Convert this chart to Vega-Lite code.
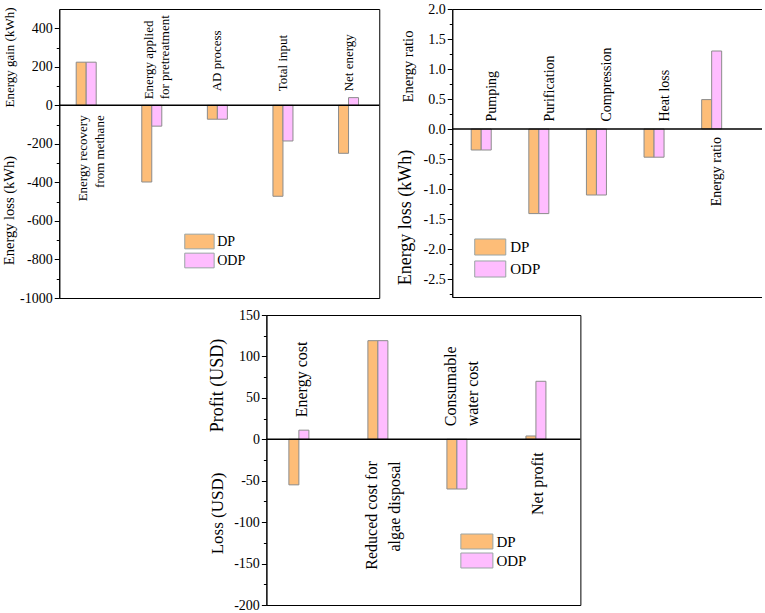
{
  "$schema": "https://vega.github.io/schema/vega-lite/v6.json",
  "padding": {"left": 0, "top": 1, "right": -27, "bottom": 0},
  "spacing": 1,
  "center": true,
  "resolve": {"scale": {"color": "independent"}, "legend": {"color": "independent"}},
  "vconcat": [
    {
      "spacing": 14,
      "resolve": {"scale": {"color": "independent"}, "legend": {"color": "independent"}},
      "hconcat": [
        {
          "width": 320,
          "height": 289,
          "data": {"values": [
            {"item": "Energy recovery\nfrom methane", "process": "DP", "value": 224},
            {"item": "Energy recovery\nfrom methane", "process": "ODP", "value": 224},
            {"item": "Energy applied\nfor pretreatment", "process": "DP", "value": -398},
            {"item": "Energy applied\nfor pretreatment", "process": "ODP", "value": -108},
            {"item": "AD process", "process": "DP", "value": -72},
            {"item": "AD process", "process": "ODP", "value": -72},
            {"item": "Total input", "process": "DP", "value": -472},
            {"item": "Total input", "process": "ODP", "value": -185},
            {"item": "Net energy", "process": "DP", "value": -249},
            {"item": "Net energy", "process": "ODP", "value": 40}
          ]},
          "layer": [
            {
              "mark": {"type": "bar", "stroke": "#8c8c8c", "strokeWidth": 1},
              "encoding": {
                "x": {"field": "item", "type": "nominal", "sort": null, "axis": null, "scale": {"paddingInner": 0.695, "paddingOuter": 0.287, "align": 0.45}},
                "xOffset": {"field": "process", "type": "nominal"},
                "y": {"field": "value", "type": "quantitative", "scale": {"domain": [-1000, 500], "nice": false, "zero": false},
                  "axis": {"orient": "left", "values": [-1000, -800, -600, -400, -200, 0, 200, 400], "format": "d", "grid": false, "tickSize": 5, "tickColor": "black", "domainColor": "black", "labelFontSize": 14, "labelColor": "black", "labelPadding": 2, "labelExpr": "replace(datum.label, '\u2212', '-')",
                    "title": "Energy loss (kWh)", "titleFontSize": 14.5, "titleFontWeight": "normal", "titleColor": "black", "titleAngle": 270, "titleBaseline": "middle", "titleAlign": "center", "titleX": -50, "titleY": 201}},
                "color": {"field": "process", "type": "nominal", "scale": {"domain": ["DP", "ODP"], "range": ["#FDBD78", "#FFBDFF"]},
                  "legend": {"orient": "none", "legendX": 132.7, "legendY": 225, "title": null, "symbolType": "M-2.1,-1.05H2.1V1.05H-2.1Z", "symbolSize": 196, "symbolStrokeColor": "#9aa5a5", "symbolStrokeWidth": 1, "symbolOpacity": 1, "labelFontSize": 14, "labelColor": "black", "labelOffset": 10.3, "rowPadding": 0, "padding": 0}}
              }
            },
            {
              "data": {"values": [{"value": 0}]},
              "mark": {"type": "rule", "color": "black", "strokeWidth": 1.5},
              "encoding": {
                "y": {"field": "value", "type": "quantitative", "scale": {"domain": [-1000, 500], "nice": false, "zero": false},
                  "axis": {"orient": "left", "values": [-900, -700, -500, -300, -100, 100, 300], "grid": false, "labels": false, "domain": false, "tickSize": 3, "tickColor": "black",
                    "title": "Energy gain (kWh)", "titleFontSize": 13, "titleFontWeight": "normal", "titleColor": "black", "titleAngle": 270, "titleBaseline": "middle", "titleAlign": "center", "titleX": -50, "titleY": 48}}
              }
            },
            {
              "transform": [{"filter": {"and": [{"field": "process", "equal": "DP"}, {"field": "item", "oneOf": ["AD process", "Total input", "Net energy"]}]}}],
              "mark": {"type": "text", "angle": 270, "align": "left", "baseline": "middle", "fontSize": 13, "yOffset": -14, "xOffset": 0, "color": "black"},
              "encoding": {
                "x": {"field": "item", "type": "nominal", "sort": null, "axis": null},
                "y": {"datum": 0, "type": "quantitative", "axis": null},
                "text": {"field": "item"}
              }
            },
            {
              "transform": [{"filter": {"and": [{"field": "process", "equal": "DP"}, {"field": "item", "oneOf": ["Energy applied\nfor pretreatment"]}]}}],
              "mark": {"type": "text", "angle": 270, "align": "left", "baseline": "middle", "fontSize": 13, "lineBreak": "\n", "lineHeight": 16, "yOffset": -6, "xOffset": -2.5, "color": "black"},
              "encoding": {
                "x": {"field": "item", "type": "nominal", "sort": null, "axis": null},
                "y": {"datum": 0, "type": "quantitative", "axis": null},
                "text": {"field": "item"}
              }
            },
            {
              "transform": [{"filter": {"and": [{"field": "process", "equal": "DP"}, {"field": "item", "oneOf": ["Energy recovery\nfrom methane"]}]}}],
              "mark": {"type": "text", "angle": 270, "align": "right", "baseline": "middle", "fontSize": 13, "lineBreak": "\n", "lineHeight": 16.5, "yOffset": 10, "xOffset": -3, "color": "black"},
              "encoding": {
                "x": {"field": "item", "type": "nominal", "sort": null, "axis": null},
                "y": {"datum": 0, "type": "quantitative", "axis": null},
                "text": {"field": "item"}
              }
            }
          ],
          "resolve": {"axis": {"y": "independent"}}
        },
        {
          "width": 310,
          "height": 288,
          "data": {"values": [
            {"item": "Pumping", "process": "DP", "value": -0.35},
            {"item": "Pumping", "process": "ODP", "value": -0.35},
            {"item": "Purification", "process": "DP", "value": -1.41},
            {"item": "Purification", "process": "ODP", "value": -1.41},
            {"item": "Compression", "process": "DP", "value": -1.1},
            {"item": "Compression", "process": "ODP", "value": -1.1},
            {"item": "Heat loss", "process": "DP", "value": -0.47},
            {"item": "Heat loss", "process": "ODP", "value": -0.47},
            {"item": "Energy ratio", "process": "DP", "value": 0.49},
            {"item": "Energy ratio", "process": "ODP", "value": 1.3}
          ]},
          "layer": [
            {
              "mark": {"type": "bar", "stroke": "#8c8c8c", "strokeWidth": 1},
              "encoding": {
                "x": {"field": "item", "type": "nominal", "sort": null, "axis": null, "scale": {"paddingInner": 0.549, "paddingOuter": 0.465, "align": 0.354}},
                "xOffset": {"field": "process", "type": "nominal"},
                "y": {"field": "value", "type": "quantitative", "scale": {"domain": [-2.8, 2.0], "nice": false, "zero": false},
                  "axis": {"orient": "left", "values": [-2.5, -2.0, -1.5, -1.0, -0.5, 0, 0.5, 1.0, 1.5, 2.0], "format": ".1f", "grid": false, "tickSize": 5, "tickColor": "black", "domainColor": "black", "labelFontSize": 14, "labelColor": "black", "labelPadding": 2, "labelExpr": "replace(datum.label, '\u2212', '-')",
                    "title": "Energy loss (kWh)", "titleFontSize": 18, "titleFontWeight": "normal", "titleColor": "black", "titleAngle": 270, "titleBaseline": "middle", "titleAlign": "center", "titleX": -47, "titleY": 208}},
                "color": {"field": "process", "type": "nominal", "scale": {"domain": ["DP", "ODP"], "range": ["#FDBD78", "#FFBDFF"]},
                  "legend": {"orient": "none", "legendX": 30, "legendY": 230, "title": null, "symbolType": "M-2.07,-1.07H2.07V1.07H-2.07Z", "symbolSize": 225, "symbolStrokeColor": "#9aa5a5", "symbolStrokeWidth": 1, "symbolOpacity": 1, "labelFontSize": 15, "labelColor": "black", "labelOffset": 12, "rowPadding": 0, "padding": 0}}
              }
            },
            {
              "data": {"values": [{"value": 0}]},
              "mark": {"type": "rule", "color": "black", "strokeWidth": 1.5},
              "encoding": {
                "y": {"field": "value", "type": "quantitative", "scale": {"domain": [-2.8, 2.0], "nice": false, "zero": false},
                  "axis": {"orient": "left", "values": [-2.75, -2.25, -1.75, -1.25, -0.75, -0.25, 0.25, 0.75, 1.25, 1.75], "grid": false, "labels": false, "domain": false, "tickSize": 3, "tickColor": "black",
                    "title": "Energy ratio", "titleFontSize": 14.5, "titleFontWeight": "normal", "titleColor": "black", "titleAngle": 270, "titleBaseline": "middle", "titleAlign": "center", "titleX": -44, "titleY": 57}}
              }
            },
            {
              "transform": [{"filter": {"and": [{"field": "process", "equal": "DP"}, {"field": "item", "oneOf": ["Pumping", "Purification", "Compression", "Heat loss"]}]}}],
              "mark": {"type": "text", "angle": 270, "align": "left", "baseline": "middle", "fontSize": 14, "yOffset": -7.5, "xOffset": 8, "color": "black"},
              "encoding": {
                "x": {"field": "item", "type": "nominal", "sort": null, "axis": null},
                "y": {"datum": 0, "type": "quantitative", "axis": null},
                "text": {"field": "item"}
              }
            },
            {
              "transform": [{"filter": {"and": [{"field": "process", "equal": "DP"}, {"field": "item", "oneOf": ["Energy ratio"]}]}}],
              "mark": {"type": "text", "angle": 270, "align": "right", "baseline": "middle", "fontSize": 14, "yOffset": 8, "xOffset": 2, "color": "black"},
              "encoding": {
                "x": {"field": "item", "type": "nominal", "sort": null, "axis": null},
                "y": {"datum": 0, "type": "quantitative",
                  "axis": {"orient": "right", "values": [0], "grid": false, "domain": false, "ticks": false, "tickSize": 0, "labelExpr": "'\u00a0'", "labelPadding": 26, "labelFontSize": 14, "title": null}},
                "text": {"field": "item"}
              }
            }
          ],
          "resolve": {"axis": {"y": "independent"}}
        }
      ]
    },
    {
      "width": 314,
      "height": 290,
      "data": {"values": [
        {"item": "Energy cost", "process": "DP", "value": -55},
        {"item": "Energy cost", "process": "ODP", "value": 11},
        {"item": "Reduced cost for\nalgae disposal", "process": "DP", "value": 119},
        {"item": "Reduced cost for\nalgae disposal", "process": "ODP", "value": 119},
        {"item": "Consumable\nwater cost", "process": "DP", "value": -60},
        {"item": "Consumable\nwater cost", "process": "ODP", "value": -60},
        {"item": "Net profit", "process": "DP", "value": 4},
        {"item": "Net profit", "process": "ODP", "value": 70}
      ]},
      "layer": [
        {
          "mark": {"type": "bar", "stroke": "#8c8c8c", "strokeWidth": 1},
          "encoding": {
            "x": {"field": "item", "type": "nominal", "sort": null, "axis": null, "scale": {"paddingInner": 0.684, "paddingOuter": 0.329, "align": 0.433}},
            "xOffset": {"field": "process", "type": "nominal"},
            "y": {"field": "value", "type": "quantitative", "scale": {"domain": [-200, 150], "nice": false, "zero": false},
              "axis": {"orient": "left", "values": [-200, -150, -100, -50, 0, 50, 100, 150], "grid": false, "tickSize": 5, "tickColor": "black", "domainColor": "black", "labelFontSize": 14, "labelColor": "black", "labelPadding": 2, "labelExpr": "replace(datum.label, '\u2212', '-')",
                "title": "Loss (USD)", "titleFontSize": 17, "titleFontWeight": "normal", "titleColor": "black", "titleAngle": 270, "titleBaseline": "middle", "titleAlign": "center", "titleX": -49, "titleY": 198}},
            "color": {"field": "process", "type": "nominal", "scale": {"domain": ["DP", "ODP"], "range": ["#FDBD78", "#FFBDFF"]},
              "legend": {"orient": "none", "legendX": 203, "legendY": 219, "title": null, "symbolType": "M-2.29,-1.07H2.29V1.07H-2.29Z", "symbolSize": 196, "symbolStrokeColor": "#9aa5a5", "symbolStrokeWidth": 1, "symbolOpacity": 1, "labelFontSize": 15, "labelColor": "black", "labelOffset": 12, "rowPadding": 0, "padding": 0}}
          }
        },
        {
          "data": {"values": [{"value": 0}]},
          "mark": {"type": "rule", "color": "black", "strokeWidth": 1.5},
          "encoding": {
            "y": {"field": "value", "type": "quantitative", "scale": {"domain": [-200, 150], "nice": false, "zero": false},
              "axis": {"orient": "left", "values": [-175, -125, -75, -25, 25, 75, 125], "grid": false, "labels": false, "domain": false, "tickSize": 3, "tickColor": "black",
                "title": "Profit (USD)", "titleFontSize": 18, "titleFontWeight": "normal", "titleColor": "black", "titleAngle": 270, "titleBaseline": "middle", "titleAlign": "center", "titleX": -49, "titleY": 70}}
          }
        },
        {
          "transform": [{"filter": {"and": [{"field": "process", "equal": "DP"}, {"field": "item", "oneOf": ["Energy cost"]}]}}],
          "mark": {"type": "text", "angle": 270, "align": "left", "baseline": "middle", "fontSize": 16, "yOffset": -22, "xOffset": 1, "color": "black"},
          "encoding": {
            "x": {"field": "item", "type": "nominal", "sort": null, "axis": null},
            "y": {"datum": 0, "type": "quantitative", "axis": null},
            "text": {"field": "item"}
          }
        },
        {
          "transform": [{"filter": {"and": [{"field": "process", "equal": "DP"}, {"field": "item", "oneOf": ["Consumable\nwater cost"]}]}}],
          "mark": {"type": "text", "angle": 270, "align": "left", "baseline": "middle", "fontSize": 16, "lineBreak": "\n", "lineHeight": 22, "yOffset": -13, "xOffset": -8, "color": "black"},
          "encoding": {
            "x": {"field": "item", "type": "nominal", "sort": null, "axis": null},
            "y": {"datum": 0, "type": "quantitative", "axis": null},
            "text": {"field": "item"}
          }
        },
        {
          "transform": [{"filter": {"and": [{"field": "process", "equal": "DP"}, {"field": "item", "oneOf": ["Reduced cost for\nalgae disposal"]}]}}],
          "mark": {"type": "text", "angle": 270, "align": "right", "baseline": "middle", "fontSize": 16, "lineBreak": "\n", "lineHeight": 23, "yOffset": 22, "xOffset": -8, "color": "black"},
          "encoding": {
            "x": {"field": "item", "type": "nominal", "sort": null, "axis": null},
            "y": {"datum": 0, "type": "quantitative", "axis": null},
            "text": {"field": "item"}
          }
        },
        {
          "transform": [{"filter": {"and": [{"field": "process", "equal": "DP"}, {"field": "item", "oneOf": ["Net profit"]}]}}],
          "mark": {"type": "text", "angle": 270, "align": "right", "baseline": "middle", "fontSize": 16, "yOffset": 13, "xOffset": 0, "color": "black"},
          "encoding": {
            "x": {"field": "item", "type": "nominal", "sort": null, "axis": null},
            "y": {"datum": 0, "type": "quantitative", "axis": null},
            "text": {"field": "item"}
          }
        }
      ],
      "resolve": {"axis": {"y": "independent"}}
    }
  ],
  "config": {
    "font": "Liberation Serif",
    "view": {"stroke": "black", "strokeWidth": 1},
    "axis": {"domainWidth": 1, "tickWidth": 1},
    "legend": {"labelFont": "Liberation Serif"}
  }
}
